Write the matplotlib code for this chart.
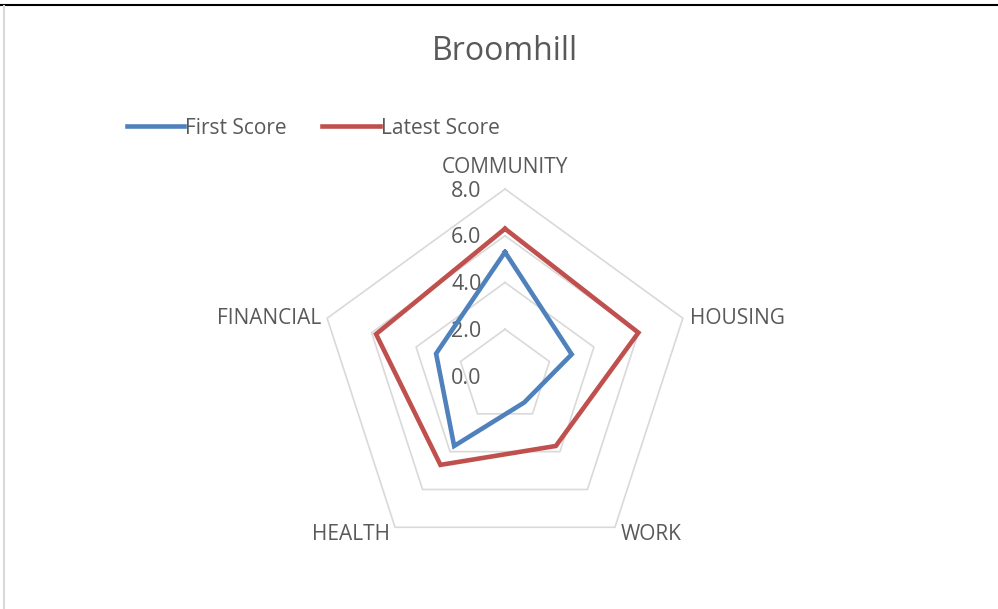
import numpy as np
import matplotlib
matplotlib.use("Agg")
import matplotlib.pyplot as plt
from matplotlib.lines import Line2D

plt.rcParams["font.family"] = ["Open Sans", "DejaVu Sans"]

categories = ["COMMUNITY", "HOUSING", "WORK", "HEALTH", "FINANCIAL"]
first_score = [5.3, 3.0, 1.4, 3.7, 3.1]
latest_score = [6.3, 6.0, 3.7, 4.7, 5.8]
ticks = [0, 2, 4, 6, 8]
tick_labels = ["0.0", "2.0", "4.0", "6.0", "8.0"]

BLUE = "#4F81BD"
RED = "#C0504D"
GRID = "#D9D9D9"
TXT = "#595959"

W, H = 998, 609
fig = plt.figure(figsize=(W / 100, H / 100), dpi=100)

# axes placed so the centre sits at (505, 376) px, 8 units = 187 px
cx, cy, half = 505, 376, 220
scale = 187 / 8
ax = fig.add_axes([(cx - half) / W, (H - cy - half) / H, 2 * half / W, 2 * half / H])
lim = half / scale
ax.set_xlim(-lim, lim)
ax.set_ylim(-lim, lim)
ax.axis("off")

n = len(categories)
angles = np.deg2rad(90 - 360 / n * np.arange(n))


def xy(vals):
    vals = np.asarray(vals, dtype=float)
    x = vals * np.cos(angles)
    y = vals * np.sin(angles)
    return np.append(x, x[0]), np.append(y, y[0])


# pentagon grid
for t in ticks[1:]:
    gx, gy = xy([t] * n)
    ax.plot(gx, gy, color=GRID, lw=1.2, zorder=1)

# value labels along the vertical axis
for t, lab in zip(ticks, tick_labels):
    ax.annotate(lab, (0, t), xytext=(-17, -1.5), textcoords="offset points",
                ha="right", va="center", fontsize=15.5, color=TXT)

# series
bx, by = xy(first_score)
ax.plot(bx, by, color=BLUE, lw=3.3, solid_joinstyle="miter", zorder=3)
rx, ry = xy(latest_score)
ax.plot(rx, ry, color=RED, lw=3.3, solid_joinstyle="miter", zorder=4)

# category labels
offsets = [(0, 15.5, "center", "center"), (5.5, 0, "left", "center"),
           (4, -5, "left", "center"), (-4, -5, "right", "center"),
           (-4, -0.5, "right", "center")]
for i, name in enumerate(categories):
    dx, dy, ha, va = offsets[i]
    ax.annotate(name, (8 * np.cos(angles[i]), 8 * np.sin(angles[i])),
                xytext=(dx, dy), textcoords="offset points",
                ha=ha, va=va, fontsize=15, color=TXT, annotation_clip=False)

# title
fig.text(cx / W, 1 - 52 / H, "Broomhill", ha="center", va="center",
         fontsize=23, color=TXT)

# legend
handles = [Line2D([], [], color=BLUE, lw=3.3), Line2D([], [], color=RED, lw=3.3)]
fig.legend(handles, ["First Score", "Latest Score"], loc="center left",
           bbox_to_anchor=(127 / W, 1 - 128 / H), ncol=2, frameon=False,
           fontsize=15, handlelength=2.75, handletextpad=0.05, columnspacing=1.7,
           borderpad=0, borderaxespad=0, labelcolor=TXT)

# chart frame remnants
fig.add_artist(Line2D([0, 1], [1 - 5 / H, 1 - 5 / H], color="black", lw=1.5,
                      transform=fig.transFigure))
fig.add_artist(Line2D([4 / W, 4 / W], [0, 1 - 6 / H], color=GRID, lw=1.5,
                      transform=fig.transFigure))

fig.savefig("out.png", dpi=100)
